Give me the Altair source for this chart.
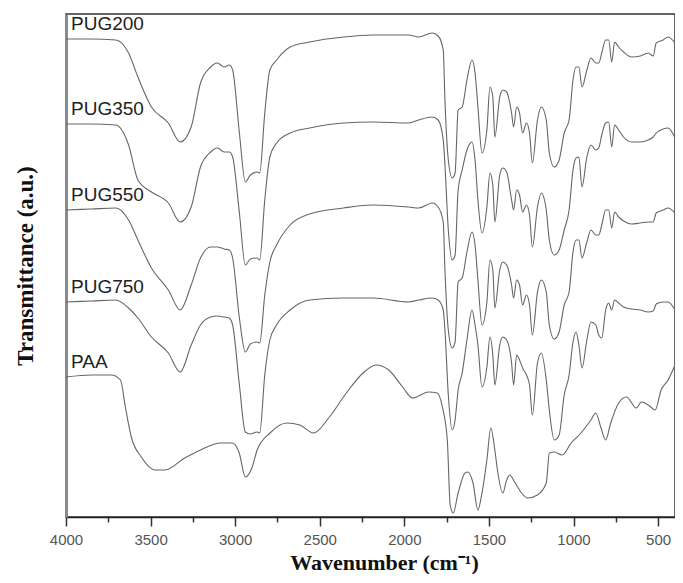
import altair as alt
import pandas as pd

# Wavenumber grid (cm-1) shared by the four PUG spectra
WAVENUMBER_PUG = [4000, 3850, 3705, 3630, 3575, 3495, 3395, 3325, 3260, 3205,
                  3145, 3105, 3065, 3035, 3015, 2975, 2940, 2910, 2870, 2855,
                  2825, 2795, 2755, 2675, 2560, 2360, 2185, 1975, 1915, 1835,
                  1800, 1770, 1760, 1740, 1717, 1700, 1682, 1658, 1630, 1600,
                  1582, 1565, 1541, 1512, 1494, 1477, 1465, 1436, 1418, 1395,
                  1366, 1354, 1336, 1319, 1301, 1278, 1260, 1243, 1213, 1190,
                  1161, 1143, 1114, 1085, 1055, 1026, 1003, 985, 968, 950,
                  921, 897, 868, 851, 833, 810, 792, 774, 757, 733,
                  704, 657, 605, 558, 529, 511, 470, 441, 400]

# Transmittance (a.u., stacked with offsets as in the figure)
PUG200 = [478, 478, 477, 464, 440, 410, 394, 375, 390, 434,
          450, 454, 450, 452, 447, 384, 335, 342, 345, 344,
          404, 447, 457, 470, 475, 480, 482, 482, 480, 484,
          481, 467, 417, 357, 339, 344, 407, 410, 437, 457,
          444, 410, 364, 387, 430, 420, 380, 420, 427, 425,
          404, 390, 410, 404, 384, 394, 384, 354, 397, 410,
          397, 364, 350, 357, 384, 397, 437, 450, 450, 430,
          447, 459, 454, 454, 464, 477, 477, 455, 475, 470,
          465, 460, 461, 464, 461, 474, 477, 480, 474]

PUG350 = [393, 393, 392, 372, 337, 325, 314, 295, 310, 350,
          365, 369, 365, 365, 360, 304, 252, 258, 259, 257,
          317, 360, 374, 384, 389, 394, 395, 394, 397, 400,
          397, 377, 352, 287, 257, 262, 327, 347, 367, 375,
          357, 317, 284, 310, 344, 332, 295, 342, 349, 345,
          317, 307, 327, 322, 305, 312, 302, 270, 310, 324,
          307, 277, 262, 267, 287, 307, 347, 359, 360, 330,
          360, 372, 367, 369, 382, 394, 395, 370, 392, 387,
          380, 375, 375, 377, 380, 384, 388, 389, 379]

PUG550 = [307, 308, 309, 297, 277, 249, 227, 207, 232, 259,
          270, 270, 268, 267, 259, 199, 165, 173, 175, 174,
          222, 255, 272, 292, 303, 309, 312, 310, 309, 314,
          310, 295, 247, 187, 169, 175, 235, 239, 265, 285,
          272, 237, 192, 215, 257, 247, 209, 247, 255, 252,
          232, 219, 237, 232, 212, 222, 212, 182, 225, 237,
          225, 192, 178, 185, 212, 225, 265, 277, 277, 259,
          275, 287, 282, 282, 292, 307, 307, 289, 305, 300,
          296, 293, 294, 295, 295, 304, 307, 309, 304]

PUG750 = [215, 216, 217, 209, 199, 180, 164, 145, 172, 192,
          200, 201, 200, 199, 192, 132, 85, 83, 85, 84,
          142, 177, 192, 207, 217, 219, 219, 215, 217, 219,
          217, 207, 187, 122, 87, 97, 127, 144, 177, 207,
          192, 172, 130, 150, 180, 162, 132, 172, 180, 177,
          154, 132, 162, 157, 149, 142, 132, 102, 154, 164,
          137, 107, 77, 82, 122, 142, 175, 185, 172, 149,
          177, 195, 192, 182, 179, 207, 214, 207, 217, 214,
          210, 208, 207, 205, 206, 213, 215, 215, 207]

WAVENUMBER_PAA = [4000, 3848, 3731, 3678, 3649, 3614, 3555, 3473, 3415, 3298,
                  3204, 3087, 3017, 2976, 2940, 2899, 2870, 2794, 2695, 2618,
                  2536, 2443, 2343, 2244, 2168, 2092, 2010, 1951, 1857, 1805,
                  1775, 1746, 1729, 1711, 1682, 1641, 1623, 1594, 1565, 1541,
                  1512, 1489, 1465, 1448, 1418, 1395, 1377, 1348, 1307, 1272,
                  1213, 1161, 1143, 1114, 1067, 1014, 956, 897, 868, 839,
                  810, 780, 733, 687, 628, 599, 558, 517, 482, 441,
                  400]

PAA = [140, 142, 142, 137, 110, 80, 60, 47, 47, 59,
       67, 74, 74, 64, 40, 50, 67, 84, 94, 92,
       84, 100, 124, 144, 152, 147, 130, 119, 125, 124,
       110, 77, 12, 4, 24, 44, 45, 34, 7, 24,
       57, 89, 67, 45, 24, 37, 42, 35, 24, 19,
       22, 34, 64, 65, 62, 74, 84, 97, 104, 90,
       77, 94, 114, 120, 109, 115, 112, 107, 127, 137,
       152]

SERIES = [("PUG200", WAVENUMBER_PUG, PUG200),
          ("PUG350", WAVENUMBER_PUG, PUG350),
          ("PUG550", WAVENUMBER_PUG, PUG550),
          ("PUG750", WAVENUMBER_PUG, PUG750),
          ("PAA", WAVENUMBER_PAA, PAA)]

X_TICKS = [4000, 3750, 3500, 3250, 3000, 2750, 2500, 2250, 2000,
           1750, 1500, 1250, 1000, 750, 500]

rows = []
labels = []
for name, wn, vals in SERIES:
    for w, v in zip(wn, vals):
        rows.append({"series": name, "wavenumber": w, "value": v})
    labels.append({"series": name, "wavenumber": wn[0], "value": vals[0]})
df = pd.DataFrame(rows)
lab = pd.DataFrame(labels)

x_enc = alt.X(
    "wavenumber:Q",
    scale=alt.Scale(domain=[4000, 400], nice=False, zero=False),
    axis=alt.Axis(
        title="Wavenumber (cm⁻¹)",
        values=X_TICKS,
        format="d",
        labelExpr="datum.value % 500 === 0 ? datum.label : ''",
        tickSize={"condition": {"test": "datum.value % 500 === 0", "value": 9}, "value": 5},
        tickColor="#333",
        tickWidth=1.5,
        grid=False,
        domainColor="#222",
        domainWidth=1.5,
        labelFont="Liberation Sans",
        labelFontSize=15,
        labelColor="#555",
        labelPadding=6,
        labelOverlap=False,
        labelBound=False,
        labelFlush=False,
        titleFont="Liberation Serif",
        titleFontWeight="bold",
        titleFontSize=22,
        titleColor="#111",
        titlePadding=5,
        titleX=318,
    ),
)

y_enc = alt.Y(
    "value:Q",
    scale=alt.Scale(domain=[0, 503], nice=False, zero=False),
    axis=alt.Axis(
        title="Transmittance (a.u.)",
        labels=False,
        ticks=False,
        grid=False,
        domainColor="#8a8a8a",
        domainWidth=3,
        titleFont="Liberation Serif",
        titleFontWeight="bold",
        titleFontSize=23,
        titleColor="#111",
        titlePadding=29,
    ),
)

lines = alt.Chart(df).mark_line(
    color="#666", strokeWidth=1.1, interpolate="monotone"
).encode(x=x_enc, y=y_enc, detail="series:N")

texts = alt.Chart(lab).mark_text(
    align="left", baseline="middle", dx=5, dy=-15,
    font="Liberation Sans", fontSize=19, color="#222"
).encode(x="wavenumber:Q", y="value:Q", text="series:N")

chart = alt.layer(lines, texts).properties(
    width=609,
    height=503,
    autosize=alt.AutoSizeParams(type="none"),
    padding={"left": 58, "top": 6, "right": 0, "bottom": 57},
).configure_view(stroke="#333", strokeWidth=1.5)

chart.save("out.html", embed_options={"renderer": "svg", "actions": False})
